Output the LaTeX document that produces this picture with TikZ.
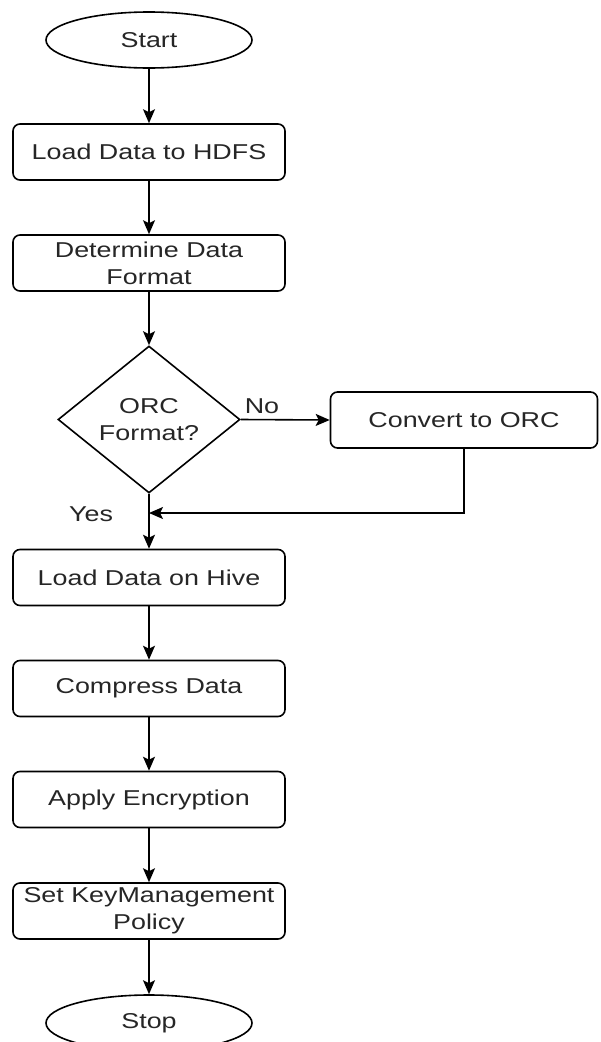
\documentclass[tikz,border=0pt]{standalone}
\usepackage{fontspec}
\setmainfont[FakeStretch=1.25]{Liberation Sans}
\usetikzlibrary{shapes.geometric,arrows.meta}

\begin{document}
\begin{tikzpicture}[x=1pt,y=-1pt,
  every node/.style={font=\fontsize{21.5}{26.7}\selectfont, text=black!85},
  line/.style={draw=black, line width=1.6pt},
  procbox/.style={line, rectangle, rounded corners=7pt, minimum width=272pt,
    minimum height=56pt, inner sep=0pt, align=center},
  terminal/.style={line, ellipse, minimum width=206pt, minimum height=56pt, inner sep=0pt},
  decision/.style={line, diamond, minimum width=182pt, minimum height=147pt,
    inner sep=0pt, aspect=1.24, align=center},
  flow/.style={line, -{Stealth[length=14pt,width=12pt,inset=3pt]}},
  lbl/.style={inner sep=0pt}]

\path[use as bounding box, clip] (0,0) rectangle (601,1042);
\fill[white] (0,0) rectangle (601,1042);

% main column
\node[terminal] (start) at (149,40) {Start};
\node[procbox] (hdfs) at (149,152) {Load Data to HDFS};
\node[procbox] (fmt) at (149,263) {Determine Data\\Format};
\node[decision] (orc) at (149,419.5) {ORC\\Format?};
\node[procbox, minimum width=267pt] (conv) at (464,420) {Convert to ORC};
\node[procbox] (hive) at (149,577.5) {Load Data on Hive};
\node[procbox] (comp) at (149,688.5) {Compress Data};
\node[procbox] (enc) at (149,799.5) {Apply Encryption};
\node[procbox] (key) at (149,911) {Set KeyManagement\\Policy};
\node[terminal] (stop) at (149,1023) {Stop};

% branch labels
\node[lbl] (no) at (262,406) {No};
\node[lbl] (yes) at (91,514) {Yes};

% merge point of the conversion branch
\coordinate (merge) at (149,513);

% connectors
\draw[flow] (start) -- (hdfs);
\draw[flow] (hdfs) -- (fmt);
\draw[flow] (fmt) -- (orc);
\draw[flow] (orc.east) -- (conv.west);
\draw[flow] (conv.south) |- (merge);
\draw[flow] (orc.south) -- (hive.north);
\draw[flow] (hive) -- (comp);
\draw[flow] (comp) -- (enc);
\draw[flow] (enc) -- (key);
\draw[flow] (key) -- (stop);
\end{tikzpicture}
\end{document}
